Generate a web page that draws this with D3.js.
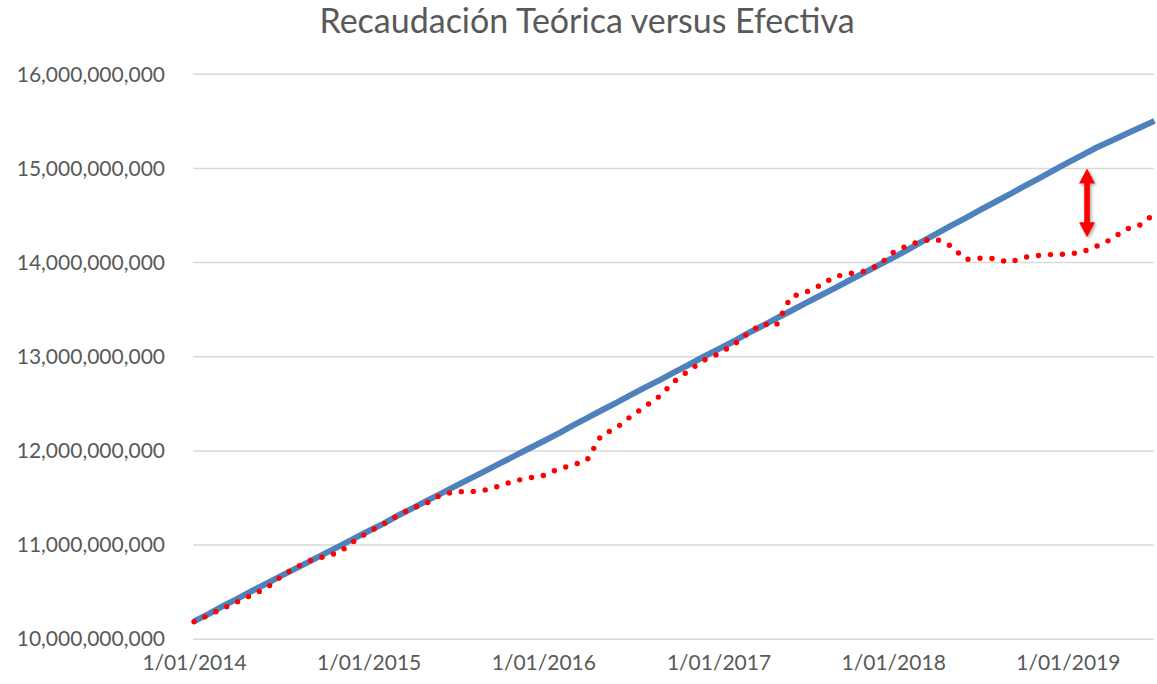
<!DOCTYPE html>
<html>
<head>
<meta charset="utf-8">
<script src="https://cdn.jsdelivr.net/npm/d3@7"></script>
<style>
  body { margin: 0; background: #fff; }
  text { font-family: Lato, "Open Sans", sans-serif; fill: #595959; }
</style>
</head>
<body>
<div id="chart"></div>
<script>
// monthly series, Jan 2014 .. Jul 2019
var startMonth = new Date(2014, 0, 1);
var endMonth = new Date(2019, 6, 1);
var months = d3.timeMonth.range(startMonth, d3.timeMonth.offset(endMonth, 1));

var teorica = [
  10.189e9, 10.269e9, 10.349e9, 10.429e9, 10.509e9, 10.589e9, 10.669e9, 10.749e9, 10.829e9, 10.909e9, 10.989e9, 11.069e9,
  11.149e9, 11.228e9, 11.308e9, 11.387e9, 11.467e9, 11.546e9, 11.626e9, 11.705e9, 11.785e9, 11.864e9, 11.944e9, 12.023e9,
  12.103e9, 12.184e9, 12.266e9, 12.348e9, 12.429e9, 12.510e9, 12.592e9, 12.674e9, 12.755e9, 12.836e9, 12.918e9, 13.000e9,
  13.081e9, 13.162e9, 13.243e9, 13.324e9, 13.405e9, 13.486e9, 13.567e9, 13.648e9, 13.729e9, 13.810e9, 13.891e9, 13.972e9,
  14.053e9, 14.137e9, 14.221e9, 14.305e9, 14.389e9, 14.473e9, 14.557e9, 14.641e9, 14.725e9, 14.809e9, 14.893e9, 14.977e9,
  15.061e9, 15.145e9, 15.220e9, 15.292e9, 15.363e9, 15.434e9, 15.505e9
];

var efectiva = [
  10.186e9, 10.255e9, 10.324e9, 10.396e9, 10.469e9, 10.540e9, 10.662e9, 10.762e9, 10.835e9, 10.878e9, 10.924e9, 11.039e9,
  11.139e9, 11.223e9, 11.308e9, 11.390e9, 11.443e9, 11.533e9, 11.568e9, 11.566e9, 11.585e9, 11.627e9, 11.680e9, 11.712e9,
  11.739e9, 11.807e9, 11.848e9, 11.900e9, 12.166e9, 12.242e9, 12.364e9, 12.473e9, 12.585e9, 12.741e9, 12.856e9, 12.962e9,
  13.032e9, 13.125e9, 13.238e9, 13.349e9, 13.328e9, 13.636e9, 13.682e9, 13.758e9, 13.851e9, 13.883e9, 13.907e9, 13.970e9,
  14.108e9, 14.185e9, 14.230e9, 14.250e9, 14.177e9, 14.034e9, 14.047e9, 14.043e9, 14.002e9, 14.055e9, 14.076e9, 14.087e9,
  14.089e9, 14.114e9, 14.172e9, 14.246e9, 14.352e9, 14.400e9, 14.517e9
];

var yTicks = [10e9, 11e9, 12e9, 13e9, 14e9, 15e9, 16e9];
var xTicks = [2014, 2015, 2016, 2017, 2018, 2019].map(y => new Date(y, 0, 1));

// gap annotation (double arrow)
var gapDate = new Date(2019, 1, 10);
var gapTop = 15.0e9;
var gapBottom = 14.27e9;

var svgWidth = 1157;
var svgHeight = 684;

var margin = { top: 74.3, right: 2, bottom: 44.5, left: 194 };
var width = svgWidth - margin.left - margin.right;
var height = svgHeight - margin.top - margin.bottom;

var svg = d3.select("#chart")
  .append("svg")
  .attr("width", svgWidth)
  .attr("height", svgHeight);

var chartGroup = svg.append("g")
  .attr("transform", `translate(${margin.left}, ${margin.top})`);

var x = d3.scaleTime()
  .domain([startMonth, endMonth])
  .range([0, width - 0.5]);

var y = d3.scaleLinear()
  .domain([10e9, 16e9])
  .range([height - 0.3, 0]);

// gridlines
chartGroup.selectAll(".grid")
  .data(yTicks)
  .enter()
  .append("line")
  .attr("x1", -1)
  .attr("x2", width - 1)
  .attr("y1", d => y(d))
  .attr("y2", d => y(d))
  .attr("stroke", "#d9d9d9")
  .attr("stroke-width", 1.5);

// y axis labels
var leftAxis = d3.axisLeft(y)
  .tickValues(yTicks)
  .tickFormat(d3.format(",.0f"))
  .tickSize(0)
  .tickPadding(29);

var yAxis = chartGroup.append("g").call(leftAxis);
yAxis.select(".domain").remove();
yAxis.selectAll("text")
  .style("font-size", "21px")
  .attr("fill", "#595959");

// x axis labels
var bottomAxis = d3.axisBottom(x)
  .tickValues(xTicks)
  .tickFormat(d3.timeFormat("%-d/%m/%Y"))
  .tickSize(0)
  .tickPadding(16);

var xAxis = chartGroup.append("g")
  .attr("transform", `translate(0, ${height})`)
  .call(bottomAxis);
xAxis.select(".domain").remove();
xAxis.selectAll("text")
  .style("font-size", "21px")
  .attr("fill", "#595959");

// lines
var lineTeo = d3.line()
  .x((d, i) => x(months[i]))
  .y(d => y(d));

chartGroup.append("path")
  .datum(teorica)
  .attr("d", lineTeo)
  .attr("fill", "none")
  .attr("stroke", "#4f81bd")
  .attr("stroke-width", 6)
  .attr("stroke-linejoin", "round");

chartGroup.append("path")
  .datum(efectiva)
  .attr("d", lineTeo)
  .attr("fill", "none")
  .attr("stroke", "#ff0000")
  .attr("stroke-width", 5.4)
  .attr("stroke-linecap", "round")
  .attr("stroke-dasharray", "0 12");

// double arrow
var defs = svg.append("defs");
var shadow = defs.append("filter").attr("id", "shadow")
  .attr("x", "-50%").attr("y", "-20%").attr("width", "200%").attr("height", "140%");
shadow.append("feDropShadow")
  .attr("dx", 1.5).attr("dy", 1.5).attr("stdDeviation", 1.5)
  .attr("flood-color", "#000").attr("flood-opacity", 0.35);

var ax = x(gapDate);
var aTop = y(gapTop);
var aBot = y(gapBottom);
var hw = 8, hh = 15, sw = 2.8;
chartGroup.append("path")
  .attr("d", `M${ax},${aTop} L${ax + hw},${aTop + hh} L${ax + sw},${aTop + hh}
    L${ax + sw},${aBot - hh} L${ax + hw},${aBot - hh} L${ax},${aBot}
    L${ax - hw},${aBot - hh} L${ax - sw},${aBot - hh} L${ax - sw},${aTop + hh}
    L${ax - hw},${aTop + hh} Z`)
  .attr("fill", "#ff0000")
  .attr("filter", "url(#shadow)");

// title
svg.append("text")
  .attr("x", 587)
  .attr("y", 33)
  .attr("text-anchor", "middle")
  .style("font-size", "34px")
  .text("Recaudación Teórica versus Efectiva");
</script>
</body>
</html>
